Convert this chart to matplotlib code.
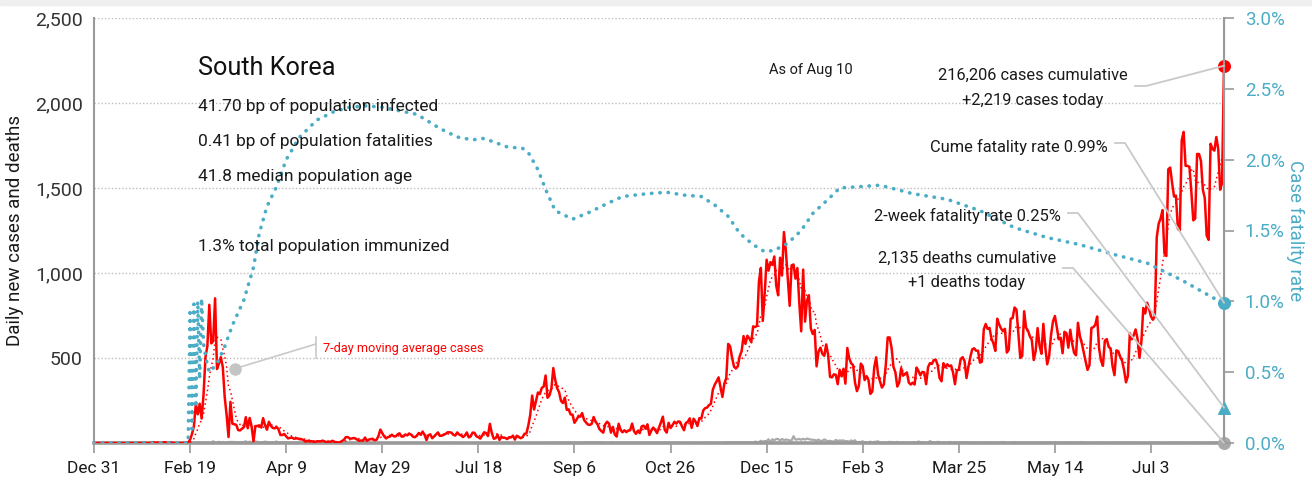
import pandas as pd
import matplotlib
matplotlib.use("Agg")
import matplotlib.pyplot as plt
import matplotlib.ticker as mticker
from matplotlib.lines import Line2D
from matplotlib.patches import Rectangle

plt.rcParams['font.family'] = ['Roboto', 'DejaVu Sans']

START = "2019-12-31"

# daily new confirmed cases, Dec 31 2019 .. Aug 10 2021 (one row per month)
new_cases = [
    0,
    0, 0, 0, 0, 0, 0, 0, 0, 0, 0, 0, 0, 0, 0, 0, 0, 0, 0, 0, 1, 0, 0, 0, 1, 0, 1, 1, 0, 0, 2, 5,
    1, 3, 0, 1, 2, 5, 0, 0, 3, 1, 0, 0, 0, 0, 0, 2, 0, 1, 20, 53, 100, 229, 169, 231, 144, 284, 505, 571, 813,
    586, 599, 851, 435, 467, 505, 448, 272, 165, 35, 242, 114, 110, 107, 76, 74, 84, 93, 152, 87, 147, 98, 10, 100, 100, 104, 91, 146, 105, 78, 125,
    101, 89, 86, 94, 81, 47, 47, 53, 39, 27, 30, 32, 25, 27, 27, 22, 22, 18, 8, 13, 9, 11, 8, 6, 10, 10, 10, 14, 9, 4,
    9, 6, 13, 8, 3, 2, 4, 12, 18, 34, 35, 27, 26, 29, 27, 19, 13, 15, 13, 32, 12, 20, 23, 25, 16, 19, 40, 79, 58, 39, 27,
    35, 38, 49, 39, 39, 51, 57, 38, 38, 50, 45, 56, 49, 37, 34, 43, 59, 49, 67, 48, 17, 46, 51, 28, 39, 51, 62, 42, 43, 50,
    54, 63, 63, 61, 48, 44, 62, 50, 45, 35, 44, 62, 33, 39, 61, 60, 39, 34, 26, 45, 63, 59, 41, 113, 58, 25, 28, 48, 18, 36, 31,
    30, 23, 34, 33, 43, 20, 43, 36, 28, 34, 54, 56, 103, 166, 279, 197, 246, 297, 288, 324, 332, 397, 266, 280, 320, 441, 371, 323, 299, 248, 235,
    267, 195, 198, 168, 167, 119, 136, 156, 155, 176, 136, 121, 109, 106, 113, 153, 126, 110, 82, 70, 61, 110, 125, 114, 61, 95, 50, 38, 113, 77,
    63, 75, 64, 73, 75, 114, 69, 54, 72, 58, 98, 102, 84, 110, 47, 73, 91, 76, 58, 91, 121, 155, 77, 61, 119, 88, 103, 125, 114, 127, 124,
    97, 75, 118, 125, 145, 89, 143, 126, 100, 146, 143, 191, 205, 208, 223, 230, 313, 343, 363, 386, 330, 271, 349, 382, 583, 569, 504, 450, 438, 451,
    511, 540, 629, 583, 631, 615, 594, 686, 682, 689, 950, 1030, 718, 880, 1078, 1014, 1064, 1047, 1097, 926, 869, 1090, 985, 1241, 1132, 970, 807, 1045, 1050, 967, 1029,
    824, 657, 1020, 714, 838, 869, 674, 641, 665, 451, 537, 561, 524, 513, 580, 520, 389, 386, 404, 401, 346, 431, 392, 437, 349, 559, 497, 469, 458, 355, 305,
    336, 467, 451, 370, 393, 371, 289, 303, 444, 504, 403, 362, 326, 344, 457, 621, 621, 561, 448, 416, 332, 356, 440, 396, 406, 415, 355, 344,
    355, 344, 444, 424, 398, 418, 416, 346, 446, 470, 465, 488, 490, 459, 382, 363, 469, 445, 463, 452, 456, 415, 346, 428, 430, 494, 505, 482, 382, 447, 506,
    551, 557, 543, 543, 473, 478, 668, 700, 671, 677, 614, 587, 542, 731, 698, 673, 658, 672, 532, 549, 731, 735, 797, 785, 644, 500, 512, 775, 679, 661,
    627, 606, 488, 541, 676, 574, 525, 701, 564, 463, 511, 635, 715, 747, 681, 610, 619, 528, 654, 646, 561, 666, 585, 530, 516, 707, 629, 587, 533, 480, 430,
    459, 677, 681, 695, 744, 556, 485, 454, 602, 611, 565, 556, 452, 399, 545, 540, 507, 482, 429, 357, 395, 645, 610, 634, 668, 614, 501, 595, 794, 762,
    825, 790, 745, 725, 745, 1210, 1290, 1320, 1370, 1115, 1100, 1610, 1620, 1530, 1450, 1455, 1260, 1250, 1780, 1830, 1630, 1630, 1625, 1480, 1310, 1320, 1700, 1700, 1660, 1490, 1440,
    1220, 1195, 1760, 1730, 1720, 1800, 1730, 1490, 1530, 2219,
]

# daily deaths, same days
new_deaths = [
    0,
    0, 0, 0, 0, 0, 0, 0, 0, 0, 0, 0, 0, 0, 0, 0, 0, 0, 0, 0, 0, 0, 0, 0, 0, 0, 0, 0, 0, 0, 0, 0,
    0, 0, 0, 0, 0, 0, 0, 0, 0, 0, 0, 0, 0, 0, 0, 0, 0, 0, 0, 1, 1, 0, 4, 2, 3, 1, 1, 3, 1,
    1, 10, 4, 3, 7, 2, 6, 1, 3, 6, 6, 6, 6, 5, 3, 6, 3, 6, 10, 3, 8, 2, 6, 9, 6, 5, 5, 5, 8, 6, 4,
    3, 4, 5, 9, 2, 3, 6, 3, 4, 4, 3, 3, 3, 3, 4, 1, 3, 2, 2, 1, 1, 2, 3, 0, 2, 2, 1, 0, 2, 1,
    2, 2, 2, 2, 0, 1, 0, 0, 0, 0, 0, 1, 1, 0, 0, 1, 1, 1, 2, 2, 2, 0, 1, 0, 0, 1, 1, 0, 0, 0, 1,
    1, 0, 0, 0, 1, 0, 0, 0, 1, 0, 0, 1, 0, 2, 0, 1, 0, 0, 0, 1, 0, 0, 1, 1, 1, 1, 0, 0, 0, 0,
    0, 1, 1, 1, 2, 1, 0, 1, 0, 1, 0, 0, 0, 0, 1, 0, 0, 1, 0, 0, 1, 1, 1, 0, 1, 0, 0, 1, 0, 0, 1,
    1, 1, 0, 0, 0, 1, 1, 0, 0, 0, 0, 0, 0, 0, 0, 1, 1, 0, 1, 0, 1, 3, 0, 1, 1, 2, 1, 2, 2, 0, 2,
    2, 2, 1, 5, 0, 4, 2, 0, 1, 3, 4, 5, 4, 3, 2, 5, 2, 5, 3, 3, 5, 0, 1, 0, 4, 3, 1, 3, 2, 1,
    2, 4, 2, 1, 1, 1, 1, 2, 2, 1, 0, 3, 1, 1, 3, 2, 2, 2, 3, 3, 1, 1, 4, 3, 3, 1, 1, 4, 2, 2, 2,
    0, 1, 0, 2, 2, 0, 1, 1, 1, 0, 1, 2, 1, 1, 2, 1, 2, 1, 1, 1, 2, 1, 2, 5, 2, 6, 3, 5, 2, 3,
    3, 5, 4, 3, 3, 4, 5, 4, 8, 6, 5, 13, 7, 12, 11, 22, 6, 22, 15, 24, 23, 14, 24, 17, 20, 19, 15, 15, 40, 20, 21,
    24, 19, 25, 20, 26, 23, 20, 19, 18, 14, 20, 12, 13, 21, 15, 10, 13, 10, 8, 18, 12, 15, 14, 15, 10, 11, 7, 15, 10, 16, 2,
    6, 6, 10, 4, 5, 3, 8, 1, 7, 7, 10, 1, 1, 4, 2, 4, 7, 4, 4, 3, 7, 0, 4, 4, 2, 1, 3, 2,
    2, 5, 1, 9, 5, 4, 4, 1, 2, 11, 5, 4, 3, 7, 5, 3, 2, 4, 1, 6, 4, 0, 6, 2, 3, 5, 5, 1, 4, 1, 5,
    3, 3, 3, 2, 1, 1, 1, 3, 2, 5, 1, 1, 1, 2, 2, 4, 6, 2, 0, 1, 3, 3, 5, 1, 1, 2, 3, 2, 2, 2,
    1, 1, 0, 2, 2, 2, 5, 2, 1, 4, 3, 4, 2, 4, 3, 2, 3, 2, 2, 4, 3, 2, 2, 1, 3, 4, 2, 6, 1, 2, 1,
    0, 1, 2, 1, 3, 3, 1, 1, 1, 2, 0, 2, 0, 4, 2, 2, 2, 0, 2, 2, 3, 2, 1, 4, 2, 0, 1, 1, 2, 2,
    2, 1, 2, 2, 1, 2, 1, 0, 0, 0, 1, 2, 3, 3, 1, 2, 2, 1, 1, 1, 1, 2, 0, 1, 2, 3, 1, 2, 0, 2, 0,
    2, 3, 4, 4, 2, 4, 3, 1, 2, 1,
]

# cumulative case fatality rate (%)
cfr_dates = [
    "2019-12-31", "2020-02-18", "2020-02-19", "2020-02-20", "2020-02-21", "2020-02-22",
    "2020-02-23", "2020-02-24", "2020-02-25", "2020-02-26", "2020-02-27", "2020-02-28",
    "2020-02-29", "2020-03-04", "2020-03-08", "2020-03-12", "2020-03-18", "2020-03-23",
    "2020-03-26", "2020-03-30", "2020-04-04", "2020-04-09", "2020-04-16", "2020-04-25",
    "2020-05-04", "2020-05-12", "2020-05-21", "2020-05-29", "2020-06-16", "2020-06-28",
    "2020-07-07", "2020-07-15", "2020-07-21", "2020-08-02", "2020-08-10", "2020-08-13",
    "2020-08-18", "2020-08-22", "2020-08-27", "2020-09-05", "2020-09-14", "2020-09-23",
    "2020-10-01", "2020-10-14", "2020-10-24", "2020-11-02", "2020-11-11", "2020-11-18",
    "2020-11-25", "2020-12-01", "2020-12-08", "2020-12-14", "2020-12-19", "2020-12-26",
    "2021-01-02", "2021-01-08", "2021-01-16", "2021-01-22", "2021-02-02", "2021-02-12",
    "2021-03-01", "2021-03-19", "2021-04-05", "2021-04-23", "2021-05-10", "2021-05-27",
    "2021-06-14", "2021-07-01", "2021-07-19", "2021-08-05", "2021-08-10",
]
cfr_pct = [
    0.0, 0.0, 0.92, 0.1, 0.98, 0.25,
    1.0, 0.45, 1.02, 0.7, 0.62, 0.55,
    0.50, 0.56, 0.68, 0.83, 1.01, 1.24,
    1.48, 1.67, 1.81, 2.00, 2.16, 2.28,
    2.34, 2.37, 2.38, 2.37, 2.32, 2.22,
    2.16, 2.14, 2.15, 2.09, 2.08, 2.05,
    1.93, 1.79, 1.64, 1.58, 1.63, 1.69,
    1.74, 1.76, 1.77, 1.75, 1.74, 1.68,
    1.60, 1.48, 1.40, 1.35, 1.36, 1.41,
    1.50, 1.62, 1.72, 1.80, 1.81, 1.82,
    1.76, 1.72, 1.64, 1.52, 1.45, 1.40,
    1.33, 1.27, 1.15, 1.02, 0.99,
]

two_week_cfr = 0.25
cases_total = "216,206"
deaths_total = "2,135"

info_lines = [
    "41.70 bp of population infected",
    "0.41 bp of population fatalities",
    "41.8 median population age",
    "",
    "1.3% total population immunized",
]

RED = "#ff0000"
TEAL = "#4bacc6"
GREY = "#a9a9a9"
AXIS = "#9a9a9a"
INK = "#1a1a1a"

W, H = 1312, 482
fig = plt.figure(figsize=(W / 100, H / 100), dpi=100)
fig.patches.append(Rectangle((0, 1 - 5 / H), 1, 5 / H, transform=fig.transFigure,
                             color="#efefef", zorder=0))
ax = fig.add_axes([94 / W, 1 - 443 / H, (1224 - 94) / W, (443 - 18) / H])
ax2 = ax.twinx()


def px(x, y):
    # pixel position (origin top-left) -> figure fraction
    return x / W, 1 - y / H


dates = pd.date_range(START, periods=len(new_cases), freq="D")
cases = pd.Series(new_cases, index=dates)
deaths = pd.Series(new_deaths, index=dates)
cases_ma = cases.rolling(7, min_periods=1).mean()
cfr = pd.Series(cfr_pct, index=pd.to_datetime(cfr_dates))

ax.plot(dates, deaths, color=GREY, lw=1.6, zorder=2)
ax.plot(dates, cases, color=RED, lw=1.8, zorder=3)
ax.plot(dates, cases_ma, color=RED, lw=1.1, ls=(0, (1, 2)), zorder=3)
ax2.plot(cfr.index, cfr.values, color=TEAL, lw=2.6, ls=(0, (0.1, 2.2)),
         dash_capstyle="round", zorder=4)

# end-of-series markers
ax.scatter([dates[-1]], [cases.iloc[-1]], s=70, color=RED, zorder=6, clip_on=False)
ax.scatter([dates[-1]], [deaths.iloc[-1]], s=70, color=GREY, zorder=6, clip_on=False)
ax2.scatter([cfr.index[-1]], [cfr.values[-1]], s=70, color=TEAL, zorder=6, clip_on=False)
ax2.scatter([dates[-1]], [two_week_cfr], s=70, marker="^", color=TEAL, zorder=6, clip_on=False)

# axes
ax.set_xlim(dates[0], dates[-1])
ax.set_ylim(0, 2500)
ax2.set_ylim(0, 3.0)

xticks = pd.date_range(START, dates[-1], freq="50D")
ax.set_xticks(xticks)
ax.set_xticklabels([f"{d:%b} {d.day}" for d in xticks])
ax.set_yticks([500, 1000, 1500, 2000, 2500])
ax.yaxis.set_major_formatter(mticker.StrMethodFormatter("{x:,.0f}"))
ax2.set_yticks([0, 0.5, 1.0, 1.5, 2.0, 2.5, 3.0])
ax2.yaxis.set_major_formatter(mticker.StrMethodFormatter("{x:.1f}%"))

ax.grid(axis="y", color="#bdbdbd", ls=(0, (1, 1.5)), lw=1)
for a in (ax, ax2):
    a.spines["top"].set_visible(False)
    for s in ("left", "right", "bottom"):
        a.spines[s].set_color(AXIS)
ax.spines["left"].set_linewidth(1.5)
ax.spines["bottom"].set_linewidth(2.6)
ax2.spines["right"].set_linewidth(1.5)
ax2.spines["bottom"].set_visible(False)
ax2.spines["left"].set_visible(False)

ax.tick_params(axis="y", length=0, pad=8, labelsize=14, labelcolor="#333333")
ax.tick_params(axis="x", length=7, width=1.2, color=AXIS, pad=6, labelsize=12.5,
               labelcolor=INK)
ax2.tick_params(axis="y", length=7, width=1.2, color=AXIS, pad=8, labelsize=13.5,
                labelcolor=TEAL)
ax.set_ylabel("Daily new cases and deaths", fontsize=13.5, color=INK, labelpad=8)
ax2.set_ylabel("Case fatality rate", fontsize=13.5, color=TEAL, rotation=270, labelpad=14)

# headline block
fig.text(*px(198, 75), "South Korea", fontsize=18.2, color="#111111", va="baseline")
for i, line in enumerate(info_lines):
    fig.text(*px(198, 111 + 35 * i), line, fontsize=12.5, color=INK, va="baseline")
fig.text(*px(769, 74), "As of Aug 10", fontsize=10.5, color=INK, va="baseline")

# callouts on the right edge
fs = 11.8
fig.text(*px(1033, 80), f"{cases_total} cases cumulative", fontsize=fs,
         color=INK, ha="center", va="baseline")
fig.text(*px(1033, 105), f"+{cases.iloc[-1]:,} cases today", fontsize=fs,
         color=INK, ha="center", va="baseline")
fig.text(*px(1108, 152), f"Cume fatality rate {cfr.values[-1]:.2f}%", fontsize=fs,
         color=INK, ha="right", va="baseline")
fig.text(*px(1061, 221), f"2-week fatality rate {two_week_cfr:.2f}%", fontsize=fs,
         color=INK, ha="right", va="baseline")
fig.text(*px(967, 263), f"{deaths_total} deaths cumulative", fontsize=fs,
         color=INK, ha="center", va="baseline")
fig.text(*px(967, 287), f"+{deaths.iloc[-1]} deaths today", fontsize=fs,
         color=INK, ha="center", va="baseline")
fig.text(*px(323, 352), "7-day moving average cases", fontsize=9.2, color=RED,
         va="baseline")


def leader(p0, p1, target, trans):
    # short horizontal stub, then a straight run to the marker
    tx, ty = fig.transFigure.inverted().transform(trans.transform(target))
    xs = [p0[0], p1[0], tx]
    ys = [p0[1], p1[1], ty]
    fig.add_artist(Line2D(xs, ys, color="#c9c9c9", lw=1.3, zorder=1))


fig.canvas.draw()
end = ax.get_xlim()[1]
leader(px(1135, 86), px(1146, 86), (end, cases.iloc[-1]), ax.transData)
leader(px(1115, 143), px(1125, 143), (end, cfr.values[-1]), ax2.transData)
leader(px(1068, 213), px(1078, 213), (end, two_week_cfr), ax2.transData)
leader(px(1063, 268), px(1073, 268), (end, deaths.iloc[-1]), ax.transData)

# pointer for the moving-average label
fig.add_artist(Line2D(*zip(px(316, 337), px(316, 358)), color="#c9c9c9", lw=1.2))
fig.add_artist(Line2D(*zip(px(316, 344), px(237, 368)), color="#c9c9c9", lw=1.2))
fig.add_artist(Line2D([px(235, 369)[0]], [px(235, 369)[1]], marker="o", ms=8,
                      color="#c4c4c4", lw=0))

fig.savefig("out.png", dpi=100)
